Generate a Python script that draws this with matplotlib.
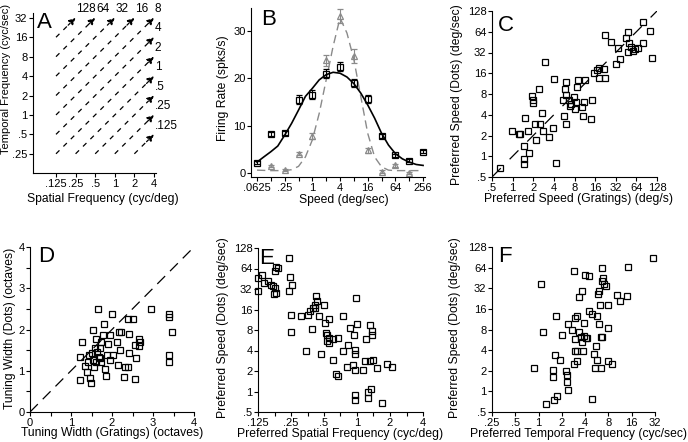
import matplotlib
matplotlib.use('Agg')
from matplotlib import pyplot as plt

plt.rcParams['font.family'] = ['Liberation Sans', 'DejaVu Sans']
plt.rcParams['font.size'] = 8
plt.rcParams['axes.linewidth'] = 0.8
plt.rcParams['lines.scale_dashes'] = False
plt.rcParams['xtick.major.width'] = 0.8
plt.rcParams['ytick.major.width'] = 0.8
plt.rcParams['xtick.minor.width'] = 0.8
plt.rcParams['ytick.minor.width'] = 0.8

# ---- panel A: iso-speed lines
a_speeds = [128, 64, 32, 16, 8, 4, 2, 1, 0.5, 0.25, 0.125]
a_speed_labels = ['128', '64', '32', '16', '8', '4', '2', '1', '.5', '.25', '.125']
a_sf_ticks = [0.125, 0.25, 0.5, 1, 2, 4]
a_sf_labels = ['.125', '.25', '.5', '1', '2', '4']
a_tf_ticks = [0.25, 0.5, 1, 2, 4, 8, 16, 32]
a_tf_labels = ['.25', '.5', '1', '2', '4', '8', '16', '32']

# ---- panel B: speed tuning, gratings (squares) and dots (triangles)
b_speed = [0.0625, 0.125, 0.25, 0.5, 1, 2, 4, 8, 16, 32, 64, 128, 256]
b_sq_rate = [2.2, 8.3, 8.4, 15.5, 16.6, 21.0, 22.5, 19.0, 15.7, 7.8, 3.7, 2.6, 4.5]
b_sq_err = [0.3, 0.4, 0.4, 1.0, 1.0, 1.0, 1.0, 0.9, 0.8, 0.5, 0.4, 0.3, 0.3]
b_tri_speed = [0.125, 0.25, 0.5, 1, 2, 4, 8, 16, 32, 64, 128]
b_tri_rate = [1.5, 0.6, 4.1, 7.8, 23.8, 33.2, 24.7, 4.8, 0.3, 1.6, 0.0]
b_tri_err = [0.2, 0.2, 0.3, 0.6, 1.2, 1.5, 1.5, 0.5, 0.3, 0.3, 0.2]
b_fit_speed = [0.0625, 0.088, 0.125, 0.177, 0.25, 0.354, 0.5, 0.707, 1, 1.41, 2, 2.83,
               4, 5.66, 8, 11.3, 16, 22.6, 32, 45.3, 64, 90.5, 128, 181, 256]
b_fit_sq = [2.3, 3.4, 4.5, 5.7, 8.0, 10.5, 13.3, 16.2, 17.9, 19.7, 20.8, 21.3,
            21.1, 20.3, 18.9, 16.9, 14.4, 11.6, 8.4, 5.9, 4.1, 3.0, 2.3, 1.8, 1.6]
b_fit_tri = [0.6, 0.55, 0.5, 0.5, 0.5, 0.7, 1.4, 3.4, 7.0, 12.6, 19.7, 26.8,
             32.8, 29.6, 24.0, 16.2, 8.4, 3.4, 1.3, 0.6, 0.5, 0.5, 0.5, 0.5, 0.5]
b_x_ticks = [0.0625, 0.25, 1, 4, 16, 64, 256]
b_x_labels = ['.0625', '.25', '1', '4', '16', '64', '256']
b_x_minor = [0.125, 0.5, 2, 8, 32, 128]

# ---- panel C: preferred speed, gratings vs dots
c_grat = [0.65, 0.98, 1.22, 1.30, 1.68, 1.48, 1.45, 1.48, 1.71, 1.53, 1.95, 1.98, 2.0,
          2.4, 2.14, 2.19, 2.54, 2.68, 2.77, 3.35, 3.84, 2.93, 4.06, 4.25, 5.43, 5.55,
          6.0, 6.0, 5.9, 6.0, 6.57, 6.8, 7.1, 7.8, 8.0, 8.6, 8.9, 8.5, 10.3, 10.6, 11.5,
          11.1, 14.4, 13.9, 15.6, 17.0, 18.4, 18.0, 21.8, 22.5, 22.5, 27.2, 32.6, 34.5,
          37.3, 45.0, 47.7, 48.2, 50.4, 53.3, 57.0, 61.7, 67.5, 79.8, 79.8, 102, 110]
c_dots = [0.68, 2.33, 2.09, 2.09, 2.33, 1.41, 0.92, 0.78, 1.12, 3.6, 7.5, 6.6, 6.0,
          9.6, 2.9, 1.74, 2.9, 4.2, 2.31, 1.91, 2.58, 23.5, 13.2, 0.81, 6.5, 3.9,
          2.9, 12.0, 9.6, 7.7, 6.5, 5.3, 5.8, 7.3, 4.8, 10.2, 12.7, 6.2, 5.2, 3.9, 12.7,
          6.2, 6.5, 3.5, 15.9, 17.8, 18.8, 13.5, 18.4, 13.5, 57, 46, 21.5, 36.8,
          25.4, 52.5, 62.8, 32.9, 43.5, 38.9, 34.0, 35.9, 36.8, 44.4, 87.8, 65.7, 26.3]
oct_ticks = [0.5, 1, 2, 4, 8, 16, 32, 64, 128]
oct_labels = ['.5', '1', '2', '4', '8', '16', '32', '64', '128']

# ---- panel D: tuning widths (octaves)
d_grat = [1.22, 1.27, 1.22, 1.34, 1.40, 1.44, 1.46, 1.48, 1.50, 1.53, 1.54, 1.57, 1.58,
          1.62, 1.62, 1.64, 1.66, 1.68, 1.70, 1.74, 1.74, 1.79, 1.81, 1.83, 1.85, 1.88,
          1.91, 1.95, 1.96, 2.01, 2.03, 2.11, 2.15, 2.17, 2.21, 2.19, 2.41, 2.29, 2.31,
          2.39, 2.38, 2.42, 2.52, 2.56, 2.58, 2.56, 2.66, 2.68, 2.66, 2.96, 3.39, 3.39,
          3.46, 3.39, 3.39, 1.42, 1.70]
d_dots = [0.77, 1.70, 1.34, 1.12, 0.97, 1.38, 0.83, 0.71, 1.42, 1.26, 1.99, 1.10, 1.54,
          1.78, 1.22, 1.46, 2.50, 1.34, 1.54, 1.70, 1.22, 1.87, 2.13, 1.05, 0.87, 1.38,
          1.64, 1.87, 1.25, 2.37, 1.38, 1.70, 1.14, 1.93, 1.95, 1.50, 1.89, 0.85, 1.10,
          1.10, 2.26, 1.42, 2.26, 0.79, 1.31, 1.62, 1.78, 1.70, 1.61, 2.49, 2.38, 2.31,
          1.95, 1.38, 1.22, 1.22, 1.30]

# ---- panel E: preferred spatial frequency vs preferred speed (dots)
e_sf = [0.126, 0.137, 0.124, 0.143, 0.155, 0.164, 0.170, 0.176, 0.179, 0.182, 0.179,
        0.182, 0.189, 0.240, 0.244, 0.240, 0.257, 0.250, 0.248, 0.308, 0.343, 0.360,
        0.369, 0.391, 0.400, 0.412, 0.418, 0.427, 0.433, 0.450, 0.470, 0.503, 0.514,
        0.524, 0.530, 0.533, 0.550, 0.554, 0.554, 0.608, 0.608, 0.639, 0.667, 0.676,
        0.75, 0.75, 0.805, 0.83, 0.86, 0.926, 0.94, 0.95, 0.96, 0.95, 0.95, 0.96, 0.98,
        0.99, 1.14, 1.19, 1.22, 1.25, 1.25, 1.32, 1.32, 1.34, 1.36, 1.37, 1.40, 1.51,
        1.68, 1.86, 2.07]
e_speed = [46.4, 52, 30.2, 39, 42, 37, 35, 27, 33, 28, 59.5, 66.6, 65, 91, 47.5, 30.2,
           37, 13.4, 7.6, 13, 4.0, 13.4, 15, 8.4, 16.8, 17, 18.8, 25, 21, 13, 3.5, 18.8,
           10.1, 7.2, 6.7, 5.45, 6.1, 11.7, 5.15, 6.0, 2.9, 1.83, 1.69, 6.1, 13, 3.9,
           2.26, 4.76, 8.6, 2.48, 6.8, 0.88, 0.76, 2.09, 4.1, 3.55, 23.6, 9.8, 2.05, 2.77,
           6.0, 1.0, 0.80, 9.6, 2.84, 1.09, 6.7, 7.8, 2.86, 2.2, 0.67, 2.53, 2.26]
e_x_ticks = [0.125, 0.25, 0.5, 1, 2, 4]
e_x_labels = ['.125', '.25', '.5', '1', '2', '4']
e_x_minor = [0.177, 0.354, 0.707, 1.414, 2.83]

# ---- panel F: preferred temporal frequency vs preferred speed (dots)
f_tf = [0.86, 1.26, 1.53, 1.53, 1.59, 1.64, 1.69, 1.72, 1.07, 1.13, 1.88, 2.0, 2.28,
        2.31, 2.31, 2.39, 2.39, 2.69, 2.84, 2.88, 2.92, 2.97, 2.97, 3.12, 3.16, 3.16,
        3.35, 3.3, 3.5, 3.6, 3.67, 3.8, 3.9, 3.9, 4.1, 4.2, 4.0, 4.55, 4.55, 4.9, 4.95,
        5.28, 5.4, 5.5, 5.67, 5.75, 5.95, 6.0, 6.1, 6.2, 6.4, 6.4, 6.7, 6.7, 6.7, 6.9,
        7.0, 7.4, 7.9, 7.9, 8.0, 9.0, 10.2, 11.3, 13.8, 14.2, 29.9]
f_speed = [2.23, 0.65, 2.04, 1.63, 0.74, 3.39, 12.6, 0.85, 37.2, 7.45, 2.86, 6.65, 1.97,
           1.76, 1.35, 1.06, 9.5, 7.9, 56.4, 2.5, 3.88, 5.8, 11.7, 12.6, 2.77, 3.88,
           23.5, 7.3, 6.3, 5.2, 29.4, 3.88, 9.9, 6.35, 6.1, 5.95, 50.4, 47.7, 15, 13.4,
           0.78, 3.46, 2.23, 4.64, 2.86, 12.8, 26.2, 28.7, 9.5, 18.3, 6.3, 2.23, 6.2,
           41.2, 63.2, 45, 36.8, 34.8, 18.3, 2.8, 8.3, 2.47, 25.7, 21, 24.8, 64.6, 88.5]
f_x_ticks = [0.25, 0.5, 1, 2, 4, 8, 16, 32]
f_x_labels = ['.25', '.5', '1', '2', '4', '8', '16', '32']

W, H = 688, 442
fig = plt.figure(figsize=(W / 100, H / 100), dpi=100)


def box(l, t, r, b):
    return [l / W, 1 - b / H, (r - l) / W, (b - t) / H]


def setup(ax, label_size=8.7):
    ax.spines['top'].set_visible(False)
    ax.spines['right'].set_visible(False)
    ax.tick_params(which='both', direction='out', length=3, pad=1, labelsize=8)
    ax.xaxis.label.set_size(label_size)
    ax.yaxis.label.set_size(label_size)


def place_labels(ax, xl_cx, xl_top, yl_right, yl_cy):
    # pixel positions of the axis labels
    ax.xaxis.set_label_coords(xl_cx / W, 1 - xl_top / H, transform=fig.transFigure)
    ax.yaxis.set_label_coords(yl_right / W, 1 - yl_cy / H, transform=fig.transFigure)


def log2_axis(ax, which, ticks, labels, minor=None):
    minor = minor or []
    if which == 'x':
        ax.set_xscale('log', base=2)
        ax.set_xticks(ticks)
        ax.set_xticklabels(labels)
        ax.set_xticks(minor, minor=True)
        ax.set_xticklabels([''] * len(minor), minor=True)
    else:
        ax.set_yscale('log', base=2)
        ax.set_yticks(ticks)
        ax.set_yticklabels(labels)
        ax.set_yticks(minor, minor=True)
        ax.set_yticklabels([''] * len(minor), minor=True)


def letter(px, py, s):
    fig.text(px / W, 1 - py / H, s, fontsize=16, va='top', ha='left')


def squares(ax, x, y):
    ax.plot(x, y, 's', ms=4.6, mfc='none', mec='k', mew=0.9, clip_on=False)


# A
ax = fig.add_axes(box(33, 13, 156, 173))
setup(ax)
log2_axis(ax, 'x', a_sf_ticks, a_sf_labels)
log2_axis(ax, 'y', a_tf_ticks, a_tf_labels)
ax.set_xlim(0.0554, 4.3)
ax.set_ylim(0.126, 38)
for v, lab in zip(a_speeds, a_speed_labels):
    sf0 = max(a_sf_ticks[0], a_tf_ticks[0] / v)
    sf1 = min(a_sf_ticks[-1], a_tf_ticks[-1] / v)
    ax.plot([sf0, sf1 / 1.3], [v * sf0, v * sf1 / 1.3], color='k', lw=0.9, dashes=(3.5, 4))
    ax.annotate('', xy=(sf1, v * sf1), xytext=(sf1 / 1.3, v * sf1 / 1.3),
                arrowprops=dict(arrowstyle='-|>', color='k', lw=0.9, mutation_scale=10,
                                shrinkA=0, shrinkB=0, linestyle=(0, (2, 2))))
    ax.annotate(lab, xy=(sf1, v * sf1), xytext=(0.5, 2), textcoords='offset points',
                ha='left', va='bottom', fontsize=8.5)
ax.set_xlabel('Spatial Frequency (cyc/deg)')
ax.set_ylabel('Temporal Frequency (cyc/sec)', fontsize=8)
place_labels(ax, 103, 193, 11.5, 79)
letter(37, 12, 'A')

# B
ax = fig.add_axes(box(251, 8, 425, 177))
setup(ax)
log2_axis(ax, 'x', b_x_ticks, b_x_labels, b_x_minor)
ax.set_xlim(0.0463, 282)
ax.set_ylim(-0.85, 34.9)
ax.set_yticks([0, 10, 20, 30])
ax.plot(b_fit_speed, b_fit_tri, color='#8a8a8a', lw=1.0, dashes=(6, 3.5))
ax.plot(b_fit_speed, b_fit_sq, color='k', lw=1.2)
ax.errorbar(b_tri_speed, b_tri_rate, yerr=b_tri_err, fmt='^', ms=4.6, mfc='none',
            mec='#8a8a8a', ecolor='#8a8a8a', mew=0.9, elinewidth=0.8, capsize=2.5,
            clip_on=False)
ax.errorbar(b_speed, b_sq_rate, yerr=b_sq_err, fmt='s', ms=4.6, mfc='none', mec='k',
            ecolor='k', mew=0.9, elinewidth=0.8, capsize=2.5, clip_on=False)
ax.set_xlabel('Speed (deg/sec)')
ax.set_ylabel('Firing Rate (spks/s)')
place_labels(ax, 344, 194, 229, 88)
letter(261, 9, 'B')

# C
ax = fig.add_axes(box(492, 11, 657, 177))
setup(ax)
log2_axis(ax, 'x', oct_ticks, oct_labels)
log2_axis(ax, 'y', oct_ticks, oct_labels)
ax.set_xlim(0.5, 128)
ax.set_ylim(0.5, 128)
ax.plot([0.5, 128], [0.5, 128], color='k', lw=0.9, dashes=(9, 9))
squares(ax, c_grat, c_dots)
ax.set_xlabel('Preferred Speed (Gratings) (deg/s)')
ax.set_ylabel('Preferred Speed (Dots) (deg/sec)')
place_labels(ax, 578, 193, 463, 95)
letter(498, 15, 'C')

# D
ax = fig.add_axes(box(30, 247, 194, 412))
setup(ax)
ax.set_xlim(0, 4)
ax.set_ylim(0, 4)
ax.set_xticks([0, 1, 2, 3, 4])
ax.set_yticks([0, 1, 2, 3, 4])
ax.set_xticks([0.5, 1.5, 2.5, 3.5], minor=True)
ax.set_yticks([0.5, 1.5, 2.5, 3.5], minor=True)
ax.plot([0, 4], [0, 4], color='k', lw=0.9, dashes=(8, 5))
squares(ax, d_grat, d_dots)
ax.set_xlabel('Tuning Width (Gratings) (octaves)')
ax.set_ylabel('Tuning Width (Dots) (octaves)')
place_labels(ax, 112, 427, 16, 328)
letter(38, 246, 'D')

# E
ax = fig.add_axes(box(258, 248, 423, 412))
setup(ax)
log2_axis(ax, 'x', e_x_ticks, e_x_labels, e_x_minor)
log2_axis(ax, 'y', oct_ticks, oct_labels)
ax.set_xlim(0.125, 4)
ax.set_ylim(0.5, 128)
squares(ax, e_sf, e_speed)
ax.set_xlabel('Preferred Spatial Frequency (cyc/deg)')
ax.set_ylabel('Preferred Speed (Dots) (deg/sec)')
place_labels(ax, 340, 428, 229, 328)
letter(259, 248, 'E')

# F
ax = fig.add_axes(box(492, 247, 655, 412))
setup(ax)
log2_axis(ax, 'x', f_x_ticks, f_x_labels)
log2_axis(ax, 'y', oct_ticks, oct_labels)
ax.set_xlim(0.25, 32)
ax.set_ylim(0.5, 128)
squares(ax, f_tf, f_speed)
ax.set_xlabel('Preferred Temporal Frequency (cyc/sec)')
ax.set_ylabel('Preferred Speed (Dots) (deg/sec)')
place_labels(ax, 579, 428, 461, 328)
letter(498, 246, 'F')

fig.savefig('out.png', dpi=100)
